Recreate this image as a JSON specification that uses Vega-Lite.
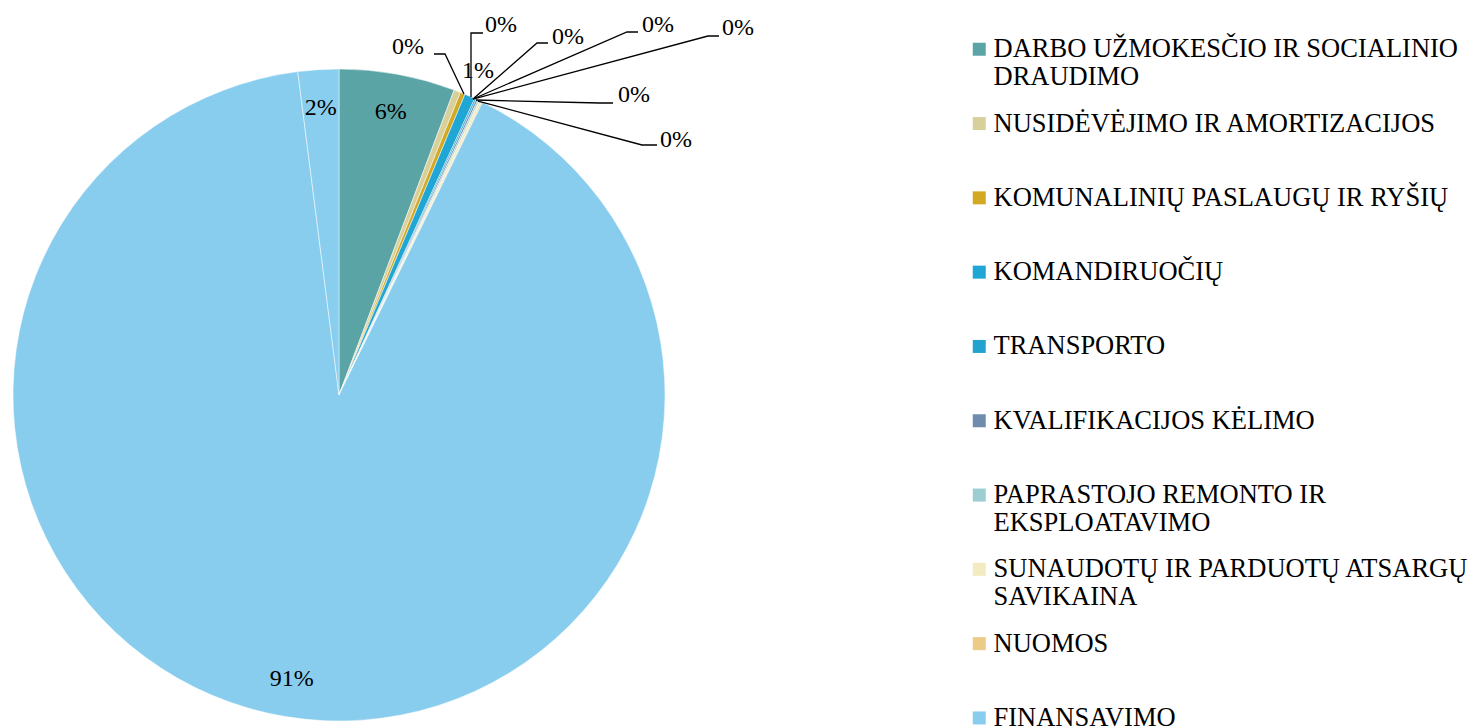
{
  "$schema": "https://vega.github.io/schema/vega-lite/v6.json",
  "width": 678,
  "height": 790,
  "padding": 0,
  "background": "white",
  "config": {
    "view": {"stroke": null},
    "font": "Liberation Serif",
    "style": {"guide-label": {"lineHeight": 28}}
  },
  "datasets": {
    "slices": [
      {"i": 1, "name": "DARBO UŽMOKESČIO IR SOCIALINIO|DRAUDIMO", "share": 0.0575},
      {"i": 2, "name": "NUSIDĖVĖJIMO IR AMORTIZACIJOS", "share": 0.0033},
      {"i": 3, "name": "KOMUNALINIŲ PASLAUGŲ IR RYŠIŲ", "share": 0.0024},
      {"i": 4, "name": "KOMANDIRUOČIŲ", "share": 0.0052},
      {"i": 5, "name": "TRANSPORTO", "share": 0.0008},
      {"i": 6, "name": "KVALIFIKACIJOS KĖLIMO", "share": 0.0009},
      {"i": 7, "name": "PAPRASTOJO REMONTO IR|EKSPLOATAVIMO", "share": 0.0008},
      {"i": 8, "name": "SUNAUDOTŲ IR PARDUOTŲ ATSARGŲ|SAVIKAINA", "share": 0.0012},
      {"i": 9, "name": "NUOMOS", "share": 0.0005},
      {"i": 10, "name": "FINANSAVIMO", "share": 0.908},
      {"i": 11, "name": "KITOS", "share": 0.0202}
    ],
    "leaders": [
      {"id": 1, "k": 1, "u": 0.3834, "v": 0.9233},
      {"id": 1, "k": 2, "u": 0.3252, "v": 1.046},
      {"id": 1, "k": 3, "u": 0.2914, "v": 1.046},
      {"id": 2, "k": 1, "u": 0.4049, "v": 0.9141},
      {"id": 2, "k": 2, "u": 0.4049, "v": 1.1104},
      {"id": 2, "k": 3, "u": 0.4417, "v": 1.1104},
      {"id": 4, "k": 1, "u": 0.411, "v": 0.908},
      {"id": 4, "k": 2, "u": 0.6074, "v": 1.0798},
      {"id": 4, "k": 3, "u": 0.6411, "v": 1.0798},
      {"id": 5, "k": 1, "u": 0.411, "v": 0.908},
      {"id": 5, "k": 2, "u": 0.8834, "v": 1.1135},
      {"id": 5, "k": 3, "u": 0.9172, "v": 1.1135},
      {"id": 6, "k": 1, "u": 0.411, "v": 0.908},
      {"id": 6, "k": 2, "u": 1.1319, "v": 1.1012},
      {"id": 6, "k": 3, "u": 1.1656, "v": 1.1012},
      {"id": 7, "k": 1, "u": 0.4202, "v": 0.9049},
      {"id": 7, "k": 2, "u": 0.8006, "v": 0.8957},
      {"id": 7, "k": 3, "u": 0.8405, "v": 0.8957},
      {"id": 8, "k": 1, "u": 0.4264, "v": 0.9018},
      {"id": 8, "k": 2, "u": 0.9294, "v": 0.7669},
      {"id": 8, "k": 3, "u": 0.9755, "v": 0.7669}
    ],
    "callouts": [
      {"label": "0%", "u": 0.1626, "v": 1.0675},
      {"label": "0%", "u": 0.4479, "v": 1.135},
      {"label": "1%", "u": 0.3773, "v": 0.9939},
      {"label": "0%", "u": 0.6534, "v": 1.0982},
      {"label": "0%", "u": 0.9294, "v": 1.135},
      {"label": "0%", "u": 1.1748, "v": 1.1258},
      {"label": "0%", "u": 0.8558, "v": 0.9202},
      {"label": "0%", "u": 0.9847, "v": 0.7822}
    ]
  },
  "layer": [
    {
      "data": {"name": "slices"},
      "mark": {"type": "arc", "outerRadius": 326, "stroke": "white", "strokeWidth": 0.5},
      "encoding": {
        "theta": {"field": "share", "type": "quantitative", "stack": true},
        "order": {"field": "i", "type": "quantitative"},
        "color": {
          "field": "name",
          "type": "nominal",
          "scale": {
            "domain": [
              "DARBO UŽMOKESČIO IR SOCIALINIO|DRAUDIMO",
              "NUSIDĖVĖJIMO IR AMORTIZACIJOS",
              "KOMUNALINIŲ PASLAUGŲ IR RYŠIŲ",
              "KOMANDIRUOČIŲ",
              "TRANSPORTO",
              "KVALIFIKACIJOS KĖLIMO",
              "PAPRASTOJO REMONTO IR|EKSPLOATAVIMO",
              "SUNAUDOTŲ IR PARDUOTŲ ATSARGŲ|SAVIKAINA",
              "NUOMOS",
              "FINANSAVIMO",
              "KITOS"
            ],
            "range": ["#5BA4A6", "#D8D09A", "#D3A823", "#1FA6D4", "#22A3CF", "#6F8BAD", "#9CCDD3", "#F2EBC2", "#ECCB86", "#88CDEE", "#89CEEE"]
          },
          "legend": {
            "title": null,
            "orient": "none",
            "legendX": 966,
            "legendY": 36,
            "padding": 0,
            "symbolType": "square",
            "symbolSize": 169,
            "symbolStrokeWidth": 0,
            "labelFont": "Liberation Serif",
            "labelFontSize": 26.5,
            "labelColor": "black",
            "labelLimit": 0,
            "labelOffset": 1,
            "labelBaseline": "middle",
            "rowPadding": 19.3,
            "labelExpr": "indexof(datum.label, '|') >= 0 ? split(datum.label, '|') : [datum.label, ' ']"
          }
        }
      }
    },
    {
      "data": {"name": "slices"},
      "mark": {"type": "text", "radius": 288, "fontSize": 24, "font": "Liberation Serif", "color": "black"},
      "encoding": {
        "theta": {"field": "share", "type": "quantitative", "stack": true},
        "order": {"field": "i", "type": "quantitative"},
        "text": {
          "condition": {"test": "datum.share >= 0.015", "field": "share", "type": "quantitative", "format": ".0%"},
          "value": ""
        }
      }
    },
    {
      "data": {"name": "leaders"},
      "mark": {"type": "line", "color": "black", "strokeWidth": 1.3},
      "encoding": {
        "x": {"field": "u", "type": "quantitative", "scale": {"domain": [-1.0399, 1.0399], "nice": false, "zero": false}, "axis": null},
        "y": {"field": "v", "type": "quantitative", "scale": {"domain": [-1.2117, 1.2117], "nice": false, "zero": false}, "axis": null},
        "detail": {"field": "id", "type": "nominal"},
        "order": {"field": "k", "type": "quantitative"}
      }
    },
    {
      "data": {"name": "callouts"},
      "mark": {"type": "text", "align": "left", "baseline": "middle", "fontSize": 24, "font": "Liberation Serif", "color": "black"},
      "encoding": {
        "x": {"field": "u", "type": "quantitative", "scale": {"domain": [-1.0399, 1.0399], "nice": false, "zero": false}, "axis": null},
        "y": {"field": "v", "type": "quantitative", "scale": {"domain": [-1.2117, 1.2117], "nice": false, "zero": false}, "axis": null},
        "text": {"field": "label"}
      }
    }
  ]
}
